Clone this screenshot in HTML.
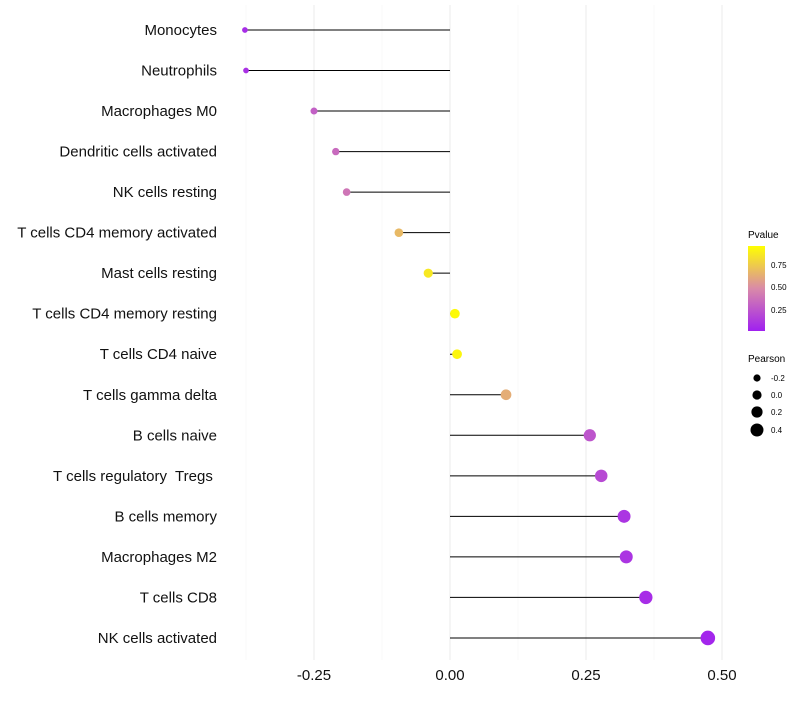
<!DOCTYPE html>
<html><head><meta charset="utf-8"><style>
body{margin:0;background:#fff;font-family:"Liberation Sans",sans-serif}
text{white-space:pre}
</style></head><body>
<svg id="c" width="800" height="700" xmlns="http://www.w3.org/2000/svg" font-family="Liberation Sans, sans-serif">
<defs><linearGradient id="pg" x1="0" y1="1" x2="0" y2="0">
<stop offset="0" stop-color="#a020f0"/><stop offset="0.5" stop-color="#d98aa8"/><stop offset="1" stop-color="#ffff00"/></linearGradient></defs>
<g id="grid"></g><g id="marks"></g><g id="labels"></g>
<g>
<text x="748" y="238" font-size="10">Pvalue</text>
<rect x="748" y="246" width="17" height="85" fill="url(#pg)"/>
<text x="771" y="268" font-size="8">0.75</text>
<text x="771" y="290" font-size="8">0.50</text>
<text x="771" y="313" font-size="8">0.25</text>
</g>
<g>
<text x="748" y="362" font-size="10">Pearson</text>
<circle cx="757" cy="378" r="3.6"/><text x="771" y="381" font-size="8">-0.2</text>
<circle cx="757" cy="395" r="4.6"/><text x="771" y="398" font-size="8">0.0</text>
<circle cx="757" cy="412" r="5.6"/><text x="771" y="415" font-size="8">0.2</text>
<circle cx="757" cy="430" r="6.5"/><text x="771" y="433" font-size="8">0.4</text>
</g>
</svg>
<script>
const categories=["Monocytes","Neutrophils","Macrophages M0","Dendritic cells activated","NK cells resting","T cells CD4 memory activated","Mast cells resting","T cells CD4 memory resting","T cells CD4 naive","T cells gamma delta","B cells naive","T cells regulatory  Tregs ","B cells memory","Macrophages M2","T cells CD8","NK cells activated"];
const pearson=[-0.377,-0.375,-0.25,-0.21,-0.19,-0.094,-0.04,0.009,0.013,0.103,0.257,0.278,0.32,0.324,0.36,0.474];
const pvalues=[0.06,0.08,0.3,0.35,0.4,0.7,0.9,0.98,0.96,0.65,0.25,0.2,0.1,0.1,0.06,0.03];
const ticks=[-0.25,0,0.25,0.5];
const tickLabels=["-0.25","0.00","0.25","0.50"];
const NS="http://www.w3.org/2000/svg";
const xs=v=>450+v*544;
const ys=i=>30+i*40.53;
function mk(t,a,p){const e=document.createElementNS(NS,t);for(const k in a)e.setAttribute(k,a[k]);p.appendChild(e);return e;}
function lerp(a,b,t){return a.map((v,i)=>Math.round(v+(b[i]-v)*t));}
function col(p){const c0=[160,32,240],c1=[217,138,168],c2=[255,255,0];const c=p<0.5?lerp(c0,c1,p/0.5):lerp(c1,c2,(p-0.5)/0.5);return `rgb(${c})`;}
const g=document.getElementById('grid'),m=document.getElementById('marks'),l=document.getElementById('labels');
[-0.375,-0.125,0.125,0.375].forEach(v=>{const e=mk('line',{x1:xs(v),x2:xs(v),y1:5,y2:660,stroke:'#f3f3f3','stroke-width':0.6},g);

});
ticks.forEach((v,i)=>{const e=mk('line',{x1:xs(v),x2:xs(v),y1:5,y2:660,stroke:'#ebebeb','stroke-width':1},g);


const t=mk('text',{x:xs(v),y:680,'font-size':15,'text-anchor':'middle',fill:'#111'},l);t.textContent=tickLabels[i];

});
categories.forEach((c,i)=>{const y=ys(i);
const t=mk('text',{x:217,y:y+5,'font-size':15,'text-anchor':'end',fill:'#111'},l);t.textContent=c;


const ln=mk('line',{x1:xs(0),x2:xs(pearson[i]),y1:y,y2:y,stroke:'#000','stroke-width':1},m);


const r=Math.max(1.8,4.8+5.2*pearson[i]);
const d=mk('circle',{cx:xs(pearson[i]),cy:y,r:r,fill:col(pvalues[i])},m);

});
</script>
</body></html>
